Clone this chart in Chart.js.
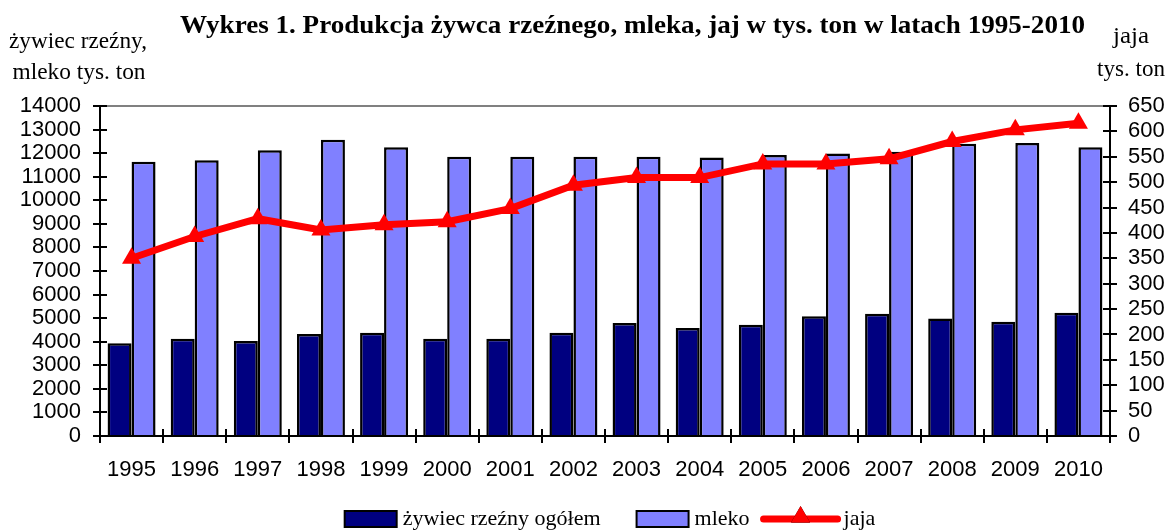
<!DOCTYPE html>
<html>
<head>
<meta charset="utf-8">
<script src="https://cdn.jsdelivr.net/npm/chart.js@4.4.1/dist/chart.umd.min.js"></script>
<style>
  html, body { margin: 0; padding: 0; background: #ffffff; }
  #wrap { width: 1168px; height: 530px; position: relative; }
</style>
</head>
<body>
<div id="wrap"><canvas id="c" width="1168" height="530"></canvas></div>
<script>
// ---- data ----
const categories = ['1995','1996','1997','1998','1999','2000','2001','2002','2003','2004','2005','2006','2007','2008','2009','2010'];
const zywiec = [3930, 4130, 4030, 4330, 4380, 4130, 4130, 4380, 4790, 4580, 4720, 5080, 5190, 4990, 4850, 5230];
const mleko  = [11640, 11700, 12120, 12570, 12250, 11850, 11850, 11850, 11850, 11810, 11920, 11980, 12060, 12400, 12430, 12250];
const jaja   = [350, 393, 428, 406, 416, 422, 448, 494, 509, 509, 536, 536, 546, 580, 603, 616];
const seriesNames = ['żywiec rzeźny ogółem', 'mleko', 'jaja'];
const titleText = 'Wykres 1. Produkcja żywca rzeźnego, mleka, jaj w tys. ton w latach 1995-2010';
const leftAxisTitle = ['żywiec rzeźny,', 'mleko tys. ton'];
const rightAxisTitle = ['jaja', 'tys. ton'];

const SERIF = '"Liberation Serif", "Times New Roman", serif';
const SANS = '"Liberation Sans", Arial, sans-serif';

const drawStretched = (ctx, text, x, y, targetW, align) => {
  const w = ctx.measureText(text).width;
  const sx = targetW / w;
  ctx.save();
  ctx.textAlign = 'left';
  let x0 = x;
  if (align === 'center') x0 = x - targetW / 2;
  ctx.translate(x0, y);
  ctx.scale(sx, 1);
  ctx.fillText(text, 0, 0);
  ctx.restore();
};

const decorPlugin = {
  id: 'decor',
  beforeDatasetsDraw(chart) {
    const ctx = chart.ctx;
    const a = chart.chartArea;
    ctx.save();
    ctx.strokeStyle = '#808080';
    ctx.lineWidth = 2;
    ctx.beginPath();
    ctx.moveTo(a.left, a.top);
    ctx.lineTo(a.right, a.top);
    ctx.stroke();
    ctx.restore();
  },
  afterDatasetsDraw(chart) {
    const ctx = chart.ctx;
    const a = chart.chartArea;
    const y = chart.scales.y, y1 = chart.scales.y1, x = chart.scales.x;
    ctx.save();
    ctx.strokeStyle = '#000';
    ctx.lineWidth = 2;
    ctx.beginPath();
    ctx.moveTo(a.left, a.top);
    ctx.lineTo(a.left, a.bottom + 7);
    ctx.stroke();
    y.ticks.forEach(t => {
      const py = Math.round(y.getPixelForValue(t.value));
      ctx.beginPath();
      ctx.moveTo(a.left - 7, py);
      ctx.lineTo(a.left + 7, py);
      ctx.stroke();
    });
    ctx.beginPath();
    ctx.moveTo(a.right, a.top);
    ctx.lineTo(a.right, a.bottom + 7);
    ctx.stroke();
    y1.ticks.forEach(t => {
      const py = Math.round(y1.getPixelForValue(t.value));
      ctx.beginPath();
      ctx.moveTo(a.right - 7, py);
      ctx.lineTo(a.right + 7, py);
      ctx.stroke();
    });
    ctx.beginPath();
    ctx.moveTo(a.left, a.bottom);
    ctx.lineTo(a.right, a.bottom);
    ctx.stroke();
    const n = categories.length;
    for (let i = 0; i <= n; i++) {
      const px = Math.round(x.getPixelForValue(i - 0.5));
      ctx.beginPath();
      ctx.moveTo(px, a.bottom - 7);
      ctx.lineTo(px, a.bottom + 7);
      ctx.stroke();
    }
    ctx.restore();
  },
  afterDraw(chart) {
    const ctx = chart.ctx;
    const ds = chart.data.datasets;
    ctx.save();
    ctx.fillStyle = '#000';
    ctx.textBaseline = 'middle';
    // title
    ctx.font = 'bold 25px ' + SERIF;
    drawStretched(ctx, titleText, 180, 27, 905, 'left');
    // axis titles
    ctx.font = '23px ' + SERIF;
    drawStretched(ctx, leftAxisTitle[0], 78, 42, 138, 'center');
    drawStretched(ctx, leftAxisTitle[1], 79, 73, 133, 'center');
    drawStretched(ctx, rightAxisTitle[0], 1131, 37, 36, 'center');
    drawStretched(ctx, rightAxisTitle[1], 1131, 70, 68, 'center');
    // legend
    ctx.font = '22px ' + SERIF;
    ctx.textAlign = 'left';
    const ly = 519;
    const w0 = ctx.measureText(ds[0].label).width;
    const w1 = ctx.measureText(ds[1].label).width;
    const w2 = ctx.measureText(ds[2].label).width;
    const boxW = 52, boxH = 16, gapT = 6, gapItem = 36, lineW = 74;
    const total = boxW + gapT + w0 + gapItem + boxW + gapT + w1 + 14 + lineW + gapT + w2;
    let lx = 610 - total / 2;
    const drawBox = (color, label, w) => {
      ctx.fillStyle = color;
      ctx.fillRect(lx, ly - boxH / 2, boxW, boxH);
      ctx.strokeStyle = '#000';
      ctx.lineWidth = 2;
      ctx.strokeRect(lx, ly - boxH / 2, boxW, boxH);
      lx += boxW + gapT;
      ctx.fillStyle = '#000';
      ctx.fillText(label, lx, ly);
      lx += w;
    };
    drawBox(ds[0].backgroundColor, ds[0].label, w0);
    lx += gapItem;
    drawBox(ds[1].backgroundColor, ds[1].label, w1);
    lx += 14;
    ctx.strokeStyle = ds[2].borderColor;
    ctx.lineWidth = 7;
    ctx.lineCap = 'round';
    ctx.beginPath();
    ctx.moveTo(lx, ly);
    ctx.lineTo(lx + lineW, ly);
    ctx.stroke();
    Chart.helpers.drawPoint(ctx, { pointStyle: 'triangle', radius: 11, borderWidth: 0 }, lx + lineW / 2, ly - 2);
    ctx.fillStyle = ds[2].borderColor;
    ctx.fill();
    lx += lineW + gapT;
    ctx.fillStyle = '#000';
    ctx.fillText(ds[2].label, lx, ly);
    ctx.restore();
  }
};

const plainTick = v => String(v);

new Chart(document.getElementById('c'), {
  data: {
    labels: categories,
    datasets: [
      {
        type: 'bar', label: seriesNames[0], data: zywiec, yAxisID: 'y', order: 1,
        backgroundColor: '#000080', borderColor: '#000000', borderWidth: 2.5,
        categoryPercentage: 0.76, barPercentage: 1.0
      },
      {
        type: 'bar', label: seriesNames[1], data: mleko, yAxisID: 'y', order: 1,
        backgroundColor: '#8080FF', borderColor: '#000000', borderWidth: 2.5,
        categoryPercentage: 0.76, barPercentage: 1.0
      },
      {
        type: 'line', label: seriesNames[2], data: jaja, yAxisID: 'y1', order: 0,
        borderColor: '#FF0000', backgroundColor: '#FF0000', borderWidth: 7,
        pointStyle: 'triangle', pointRadius: 11, pointBorderWidth: 0,
        pointBackgroundColor: '#FF0000', tension: 0, clip: false
      }
    ]
  },
  options: {
    responsive: false,
    devicePixelRatio: 1,
    animation: false,
    layout: { padding: { top: 106, left: 0, right: 0, bottom: 0 } },
    plugins: { legend: { display: false }, title: { display: false }, tooltip: { enabled: false } },
    scales: {
      x: {
        type: 'category',
        grid: { display: false, drawTicks: false },
        border: { display: false },
        ticks: { color: '#000', font: { family: SANS, size: 22 }, padding: 21, maxRotation: 0, autoSkip: false },
        afterFit(s) { s.height = 94; }
      },
      y: {
        position: 'left', min: 0, max: 14000,
        grid: { display: false, drawTicks: false },
        border: { display: false },
        ticks: { stepSize: 1000, autoSkip: false, callback: plainTick, color: '#000', font: { family: SANS, size: 22 }, padding: 19 },
        afterFit(s) { s.width = 100; }
      },
      y1: {
        position: 'right', min: 0, max: 650,
        grid: { display: false, drawTicks: false },
        border: { display: false },
        ticks: { stepSize: 50, autoSkip: false, callback: plainTick, color: '#000', font: { family: SANS, size: 22 }, padding: 18 },
        afterFit(s) { s.width = 58; }
      }
    }
  },
  plugins: [decorPlugin]
});
</script>
</body>
</html>
